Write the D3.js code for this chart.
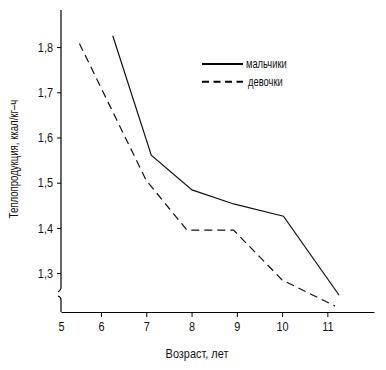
<!DOCTYPE html>
<html lang="ru">
<meta charset="utf-8">
<script src="https://d3js.org/d3.v7.min.js"></script>
<style>
  body { margin: 0; background: #fff; }
  text { font-family: "Liberation Sans Narrow", "Arial Narrow", "Liberation Sans", sans-serif; fill: #111; }
</style>
<body>
<svg width="386" height="370"></svg>
<script>
// ages (years) and heat production (kcal/kg·h)
var boysAge = [6.26, 7.11, 8.01, 8.93, 10.03, 11.26];
var boysVal = [1.825, 1.561, 1.484, 1.453, 1.426, 1.251];
var girlsAge = [5.46, 7.0, 7.9, 8.93, 10.0, 11.17];
var girlsVal = [1.808, 1.505, 1.395, 1.395, 1.285, 1.227];

var xTicks = [5, 6, 7, 8, 9, 10, 11];
var yTicks = [1.3, 1.4, 1.5, 1.6, 1.7, 1.8];
var seriesNames = ["мальчики", "девочки"];

var svg = d3.select("svg");
var mLeft = 61, mTop = 10, mBottom = 312, mRight = 374;
var squeezeBy = 0.84;   // the original face is a narrow one

// the origin is drawn at 5 but the 5-6 step is a bit shorter than the rest
var x = d3.scaleLinear().domain([5, 6, 12.03]).range([mLeft, 101, mRight]);
var y = d3.scaleLinear().domain([1.214, 1.882]).range([mBottom, mTop]);

var comma = function (d) { return d3.format(".1f")(d).replace(".", ","); };

// narrow the text horizontally around its own anchor point
function squeeze(sel, k) {
  sel.each(function () {
    var t = d3.select(this);
    var tx = +t.attr("x") || 0, ty = +t.attr("y") || 0;
    var old = t.attr("transform") || "";
    t.attr("transform", old + " translate(" + tx + "," + ty + ") scale(" + (k || squeezeBy) + ",1) translate(" + (-tx) + "," + (-ty) + ")");
  });
}

// x axis
var gx = svg.append("g")
    .attr("transform", "translate(0," + mBottom + ")")
    .call(d3.axisBottom(x).tickValues(xTicks).tickFormat(d3.format("d"))
        .tickSize(5).tickSizeOuter(0).tickPadding(5));
gx.select(".domain").attr("stroke", "#000").attr("stroke-width", 1.2);
gx.selectAll(".tick line").attr("stroke", "#000");
gx.selectAll(".tick").filter(function (d) { return d === 5; }).select("line").remove();
gx.selectAll("text").attr("font-size", 13).style("font-family", null).attr("fill", "#111").call(squeeze);

// y axis (domain drawn by hand for the break)
var gy = svg.append("g")
    .attr("transform", "translate(" + mLeft + ",0)")
    .call(d3.axisLeft(y).tickValues(yTicks).tickFormat(comma).tickSize(4).tickPadding(4));
gy.select(".domain").remove();
gy.selectAll(".tick line").attr("stroke", "#000");
gy.selectAll("text").attr("font-size", 13).style("font-family", null).attr("fill", "#111").call(squeeze);

var axisPath = d3.path();
axisPath.moveTo(mLeft, mTop);
axisPath.lineTo(mLeft, mBottom - 24);
axisPath.quadraticCurveTo(mLeft, mBottom - 22, mLeft - 3, mBottom - 20);
axisPath.moveTo(mLeft - 3, mBottom - 16);
axisPath.quadraticCurveTo(mLeft, mBottom - 15, mLeft, mBottom - 12);
axisPath.lineTo(mLeft, mBottom);
svg.append("path").attr("d", axisPath.toString())
    .attr("fill", "none").attr("stroke", "#000").attr("stroke-width", 1.2);

// lines
var line = d3.line().x(function (d) { return x(d[0]); }).y(function (d) { return y(d[1]); });
var boys = d3.zip(boysAge, boysVal);
var girls = d3.zip(girlsAge, girlsVal);

svg.append("path").datum(boys).attr("d", line)
    .attr("fill", "none").attr("stroke", "#111").attr("stroke-width", 1.2);
svg.append("path").datum(girls).attr("d", line)
    .attr("fill", "none").attr("stroke", "#111").attr("stroke-width", 1.2)
    .attr("stroke-dasharray", "8,5");

// legend
var lg = svg.append("g").attr("transform", "translate(202,64)");
lg.selectAll("line").data(seriesNames).enter().append("line")
    .attr("x1", 0).attr("x2", 41)
    .attr("y1", function (d, i) { return i * 17.7; }).attr("y2", function (d, i) { return i * 17.7; })
    .attr("stroke", "#000").attr("stroke-width", 2)
    .attr("stroke-dasharray", function (d, i) { return i ? "7,4.5" : null; });
lg.selectAll("text").data(seriesNames).enter().append("text")
    .attr("x", function (d, i) { return 44 + i * 2; })
    .attr("y", function (d, i) { return i * 17.7 + 4; })
    .attr("font-size", 12)
    .text(function (d) { return d; })
    .call(squeeze, 0.78);

// axis titles
svg.append("text")
    .attr("x", 197).attr("y", 358)
    .attr("text-anchor", "middle").attr("font-size", 13)
    .text("Возраст, лет")
    .call(squeeze);
svg.append("text")
    .attr("transform", "translate(18,159) rotate(-90) scale(0.8,1)")
    .attr("text-anchor", "middle").attr("font-size", 12)
    .text("Теплопродукция, ккал/кг–ч");
</script>
</body>
</html>
